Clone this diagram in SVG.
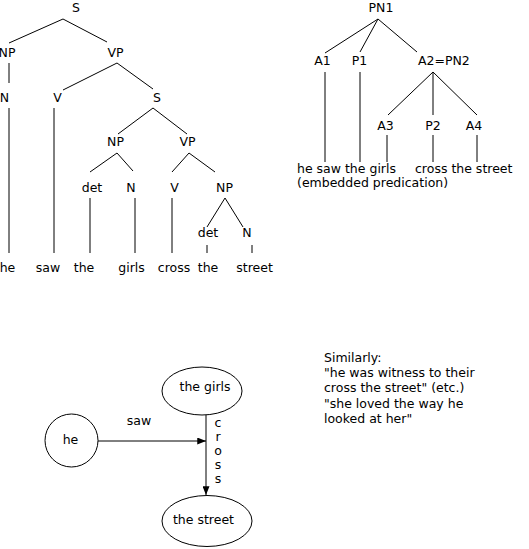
<svg xmlns="http://www.w3.org/2000/svg" width="529" height="549" viewBox="0 0 529 549">
<style>
text{font-family:"DejaVu Sans","Verdana",sans-serif;font-size:12.5px;fill:#000}
.m{text-anchor:middle}
line,ellipse,circle{stroke:#000;stroke-width:1;fill:none}
</style>
<defs>
<marker id="ah" viewBox="0 0 10 8" refX="10" refY="4" markerWidth="9" markerHeight="7" markerUnits="userSpaceOnUse" orient="auto">
<path d="M0,0L10,4L0,8z" fill="#000"/>
</marker>
</defs>
<rect width="529" height="549" fill="#fff"/>
<g id="connectors">
<line x1="63" y1="19" x2="9" y2="43"/>
<line x1="63" y1="19" x2="107" y2="42"/>
<line x1="9" y1="63" x2="9" y2="83"/>
<line x1="117" y1="63" x2="63" y2="90"/>
<line x1="117" y1="63" x2="153" y2="89"/>
<line x1="9" y1="108" x2="9" y2="253"/>
<line x1="54" y1="108" x2="54" y2="253"/>
<line x1="153" y1="108" x2="118" y2="134"/>
<line x1="153" y1="108" x2="187" y2="134"/>
<line x1="117" y1="153" x2="90" y2="172"/>
<line x1="117" y1="153" x2="133" y2="171"/>
<line x1="90" y1="198" x2="90" y2="253"/>
<line x1="135" y1="198" x2="135" y2="253"/>
<line x1="189" y1="153" x2="172" y2="172"/>
<line x1="189" y1="153" x2="215" y2="172"/>
<line x1="172" y1="198" x2="172" y2="253"/>
<line x1="225" y1="198" x2="207" y2="227"/>
<line x1="225" y1="198" x2="243" y2="227"/>
<line x1="207" y1="245" x2="207" y2="253"/>
<line x1="252" y1="245" x2="252" y2="253"/>
<line x1="378" y1="19" x2="325" y2="53"/>
<line x1="378" y1="19" x2="360" y2="52"/>
<line x1="378" y1="19" x2="417" y2="52"/>
<line x1="325" y1="72" x2="325" y2="162"/>
<line x1="360" y1="72" x2="360" y2="162"/>
<line x1="433" y1="72" x2="388" y2="115"/>
<line x1="433" y1="72" x2="433" y2="115"/>
<line x1="433" y1="72" x2="477" y2="115"/>
<line x1="387" y1="135" x2="387" y2="162"/>
<line x1="433" y1="135" x2="433" y2="162"/>
<line x1="477" y1="135" x2="477" y2="162"/>
<line x1="98" y1="441" x2="206" y2="441" marker-end="url(#ah)"/>
<line x1="206" y1="415" x2="206" y2="495" marker-end="url(#ah)"/>
</g>
<g id="tree1">
<text class="m" x="76" y="12">S</text>
<text class="m" x="7" y="57">NP</text>
<text class="m" x="115.5" y="57">VP</text>
<text class="m" x="4.5" y="102">N</text>
<text class="m" x="57.5" y="102">V</text>
<text class="m" x="157" y="102">S</text>
<text class="m" x="115.5" y="146">NP</text>
<text class="m" x="187.5" y="146">VP</text>
<text class="m" x="92" y="192">det</text>
<text class="m" x="131" y="192">N</text>
<text class="m" x="174.5" y="192">V</text>
<text class="m" x="224.5" y="192">NP</text>
<text class="m" x="208" y="237">det</text>
<text class="m" x="247" y="237">N</text>
<text class="m" x="7.5" y="272">he</text>
<text class="m" x="48" y="272">saw</text>
<text class="m" x="84" y="272">the</text>
<text class="m" x="131.5" y="272">girls</text>
<text class="m" x="174" y="272">cross</text>
<text class="m" x="208" y="272">the</text>
<text class="m" x="254.5" y="272">street</text>
</g>
<g id="tree2">
<text class="m" x="381" y="12">PN1</text>
<text class="m" x="322.5" y="65">A1</text>
<text class="m" x="359.5" y="65">P1</text>
<text x="418" y="65">A2=PN2</text>
<text class="m" x="385.5" y="130">A3</text>
<text class="m" x="433" y="130">P2</text>
<text class="m" x="474" y="130">A4</text>
<text x="297" y="173">he saw the girls</text>
<text x="415" y="173">cross the street</text>
<text x="297" y="187">(embedded predication)</text>
</g>
<g id="node-he">
<circle cx="71.5" cy="440.5" r="26.5"/>
<text class="m" x="70.5" y="444">he</text>
</g>
<g id="node-girls">
<ellipse cx="202" cy="391" rx="40" ry="24"/>
<text class="m" x="205" y="391">the girls</text>
</g>
<g id="node-street">
<ellipse cx="207" cy="521" rx="45" ry="25.5"/>
<text class="m" x="203.5" y="524">the street</text>
</g>
<g id="labels">
<text class="m" x="139" y="425">saw</text>
<text class="m" x="218" y="427">c</text>
<text class="m" x="218" y="441">r</text>
<text class="m" x="218" y="455">o</text>
<text class="m" x="218" y="469">s</text>
<text class="m" x="218" y="483">s</text>
</g>
<g id="note">
<text x="324" y="361.5">Similarly:</text>
<text x="324" y="377">"he was witness to their</text>
<text x="324" y="392.3">cross the street" (etc.)</text>
<text x="324" y="407.6">"she loved the way he</text>
<text x="324" y="423">looked at her"</text>
</g>
</svg>
